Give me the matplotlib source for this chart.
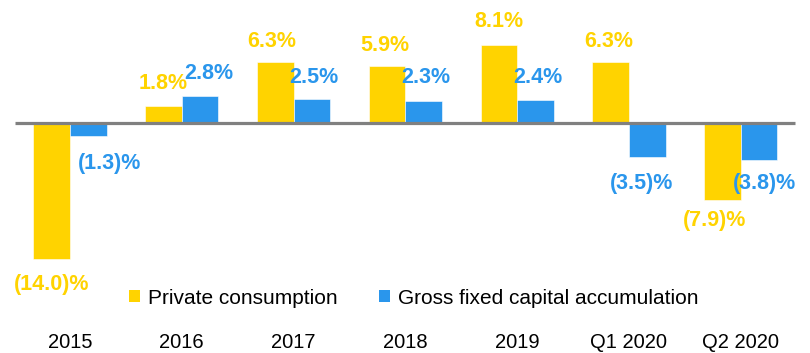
import matplotlib
matplotlib.use("Agg")
import matplotlib.pyplot as plt
import numpy as np
from matplotlib.patches import Patch

categories = ["2015", "2016", "2017", "2018", "2019", "Q1 2020", "Q2 2020"]
private_consumption = [-14.0, 1.8, 6.3, 5.9, 8.1, 6.3, -7.9]
gross_fixed_capital = [-1.3, 2.8, 2.5, 2.3, 2.4, -3.5, -3.8]
series_names = ["Private consumption", "Gross fixed capital accumulation"]

YELLOW = "#FFD300"
BLUE = "#2A96EC"
GREY = "#808080"

plt.rcParams["font.family"] = ["Liberation Sans", "DejaVu Sans"]

W, H = 810, 353
fig = plt.figure(figsize=(W / 100, H / 100), dpi=100)
ax = fig.add_axes([0, 0, 1, 1])
ax.set_axis_off()

x = np.arange(len(categories))
width = 0.327

ax.bar(x - width / 2, private_consumption, width, color=YELLOW, edgecolor="white", linewidth=0.4)
ax.bar(x + width / 2, gross_fixed_capital, width, color=BLUE, edgecolor="white", linewidth=0.4)

ax.hlines(0, -0.49, 6.485, color=GREY, linewidth=2.3, zorder=3)

ax.set_xlim(-0.626, 6.619)
ax.set_ylim(-23.66, 12.73)


def fmt(v):
    return f"{v:.1f}%" if v >= 0 else f"({abs(v):.1f})%"


# label placement tweaks: horizontal nudge (category units), distance from bar end (px)
nudge_pc = [0, 0, -0.03, -0.02, 0, -0.02, -0.075]
nudge_gf = [0.19, 0.08, 0.015, 0.02, 0.02, -0.055, 0.045]
gap_pc = [25, 23, 21, 21, 23, 21, 20]
gap_gf = [27, 23, 22, 24, 23, 26, 23]

for series, sign, color, nudges, gaps in (
    (private_consumption, -1, YELLOW, nudge_pc, gap_pc),
    (gross_fixed_capital, 1, BLUE, nudge_gf, gap_gf),
):
    for i, v in enumerate(series):
        xc = x[i] + sign * width / 2 + nudges[i]
        off = gaps[i] if v >= 0 else -gaps[i]
        ax.annotate(fmt(v), (xc, v), xytext=(0, off * 0.72), textcoords="offset points",
                    ha="center", va="center", color=color, fontsize=15.5,
                    fontweight="bold")

for i, c in enumerate(categories):
    ax.text(x[i], -22.53, c, ha="center", va="center", fontsize=14.5, color="black")

handles = [Patch(facecolor=YELLOW), Patch(facecolor=BLUE)]
fig.legend(handles, series_names, loc="center left",
           bbox_to_anchor=(129 / W, 1 - 298 / H), frameon=False, fontsize=15,
           ncol=2, handlelength=0.55, handleheight=0.55, handletextpad=0.35,
           columnspacing=2.0, borderpad=0, borderaxespad=0)

fig.savefig("out.png", dpi=100)
